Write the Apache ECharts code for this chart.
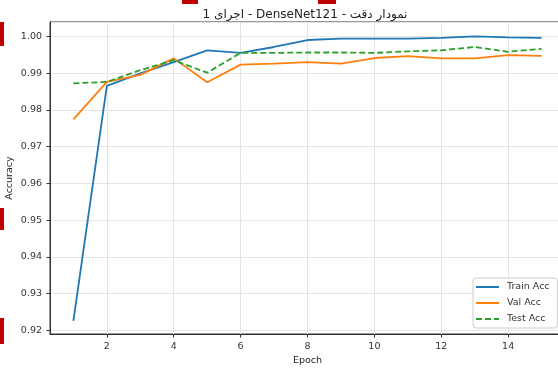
<!DOCTYPE html>
<html><head><meta charset="utf-8">
<script src="https://cdn.jsdelivr.net/npm/echarts@6/dist/echarts.min.js"></script>
<style>html,body{margin:0;padding:0;background:#fff}#c{width:558px;height:369px}</style>
</head><body><div id="c"></div>
<script>
const epochs = [1, 2, 3, 4, 5, 6, 7, 8, 9, 10, 11, 12, 13, 14, 15];
const trainAcc = [0.9226, 0.9865, 0.9899, 0.9930, 0.9962, 0.9955, 0.9971, 0.9990, 0.9994, 0.9994, 0.9994, 0.9996, 1.0000, 0.9997, 0.9996];
const valAcc = [0.9774, 0.9876, 0.9895, 0.9940, 0.9875, 0.9923, 0.9926, 0.9930, 0.9926, 0.9941, 0.9946, 0.9940, 0.9940, 0.9949, 0.9947];
const testAcc = [0.9872, 0.9876, 0.9908, 0.9935, 0.9901, 0.9955, 0.9955, 0.9956, 0.9956, 0.9955, 0.9959, 0.9962, 0.9971, 0.9958, 0.9966];
const seriesNames = ['Train Acc', 'Val Acc', 'Test Acc'];
const titleText = 'نمودار دقت - DenseNet121 - اجرای 1';
const xName = 'Epoch';
const yName = 'Accuracy';

const font = 'DejaVu Sans';
const pair = arr => epochs.map((e, i) => [e, arr[i]]);
const chart = echarts.init(document.getElementById('c'), null, {renderer: 'canvas'});
const axisCommon = {
  axisLine: {show: true, onZero: false, lineStyle: {color: '#333', width: 1}},
  axisTick: {show: true, inside: false, length: 3.5, lineStyle: {color: '#333'}},
  splitLine: {show: true, lineStyle: {color: '#e4e4e4', width: 1}},
  nameTextStyle: {fontFamily: font, fontSize: 9.5, color: '#222'},
  nameMoveOverlap: false
};
const solidIcon = 'path://M0 0H23V2H0Z';
const dashIcon = 'path://M0 0H6V2H0Z M9 0H15V2H9Z M18 0H23V2H18Z';
chart.setOption({
  animation: false,
  backgroundColor: '#fff',
  title: {
    // RTL embedding so the Persian title reads in right-to-left order
    text: '\u202B' + titleText + '\u202C', left: 300, top: 4, textAlign: 'center',
    textStyle: {fontFamily: font, fontSize: 12, fontWeight: 'normal', color: '#222'}
  },
  grid: {left: 50, width: 515, top: 22, bottom: 35, outerBoundsMode: 'none', containLabel: false,
    show: true, borderColor: '#333', borderWidth: 1},
  xAxis: Object.assign({}, axisCommon, {
    type: 'value', min: 0.3, max: 15.7, splitNumber: 7,
    name: xName, nameLocation: 'middle', nameGap: 22,
    axisLabel: {showMinLabel: false, showMaxLabel: false, margin: 8, fontSize: 9.5, color: '#333', fontFamily: font}
  }),
  yAxis: Object.assign({}, axisCommon, {
    type: 'value', min: 0.919, max: 1.0039, splitNumber: 8,
    name: yName, nameLocation: 'middle', nameGap: 35,
    axisLabel: {showMinLabel: false, showMaxLabel: false, margin: 8, fontSize: 9.5, color: '#333', fontFamily: font,
      formatter: v => v.toFixed(2)}
  }),
  legend: {
    orient: 'vertical', left: 473, top: 278, itemWidth: 23, itemHeight: 2, itemGap: 5,
    padding: [3.5, 8, 3.5, 3], backgroundColor: 'rgba(255,255,255,0.85)', borderColor: '#ccc', borderWidth: 1, borderRadius: 3,
    itemStyle: {borderWidth: 0},
    textStyle: {fontFamily: font, fontSize: 9.5, color: '#333', padding: [0, 0, 0, 3], lineHeight: 11},
    data: [
      {name: seriesNames[0], icon: solidIcon},
      {name: seriesNames[1], icon: solidIcon},
      {name: seriesNames[2], icon: dashIcon}
    ]
  },
  series: [
    {name: seriesNames[0], type: 'line', data: pair(trainAcc), symbol: 'none', showSymbol: false,
      lineStyle: {color: '#1f77b4', width: 1.8}, itemStyle: {color: '#1f77b4'}},
    {name: seriesNames[1], type: 'line', data: pair(valAcc), symbol: 'none', showSymbol: false,
      lineStyle: {color: '#ff7f0e', width: 1.8}, itemStyle: {color: '#ff7f0e'}},
    {name: seriesNames[2], type: 'line', data: pair(testAcc), symbol: 'none', showSymbol: false,
      lineStyle: {color: '#2ca02c', width: 1.8, type: [6, 3]}, itemStyle: {color: '#2ca02c'}}
  ],
  graphic: [
    {type: 'rect', shape: {x: 0, y: 22, width: 4, height: 24}, style: {fill: '#c00000'}},
    {type: 'rect', shape: {x: 0, y: 208, width: 4, height: 22}, style: {fill: '#c00000'}},
    {type: 'rect', shape: {x: 0, y: 318, width: 4, height: 26}, style: {fill: '#c00000'}},
    {type: 'rect', shape: {x: 182, y: 0, width: 16, height: 4}, style: {fill: '#c00000'}},
    {type: 'rect', shape: {x: 318, y: 0, width: 18, height: 4}, style: {fill: '#c00000'}}
  ]
});
</script></body></html>
